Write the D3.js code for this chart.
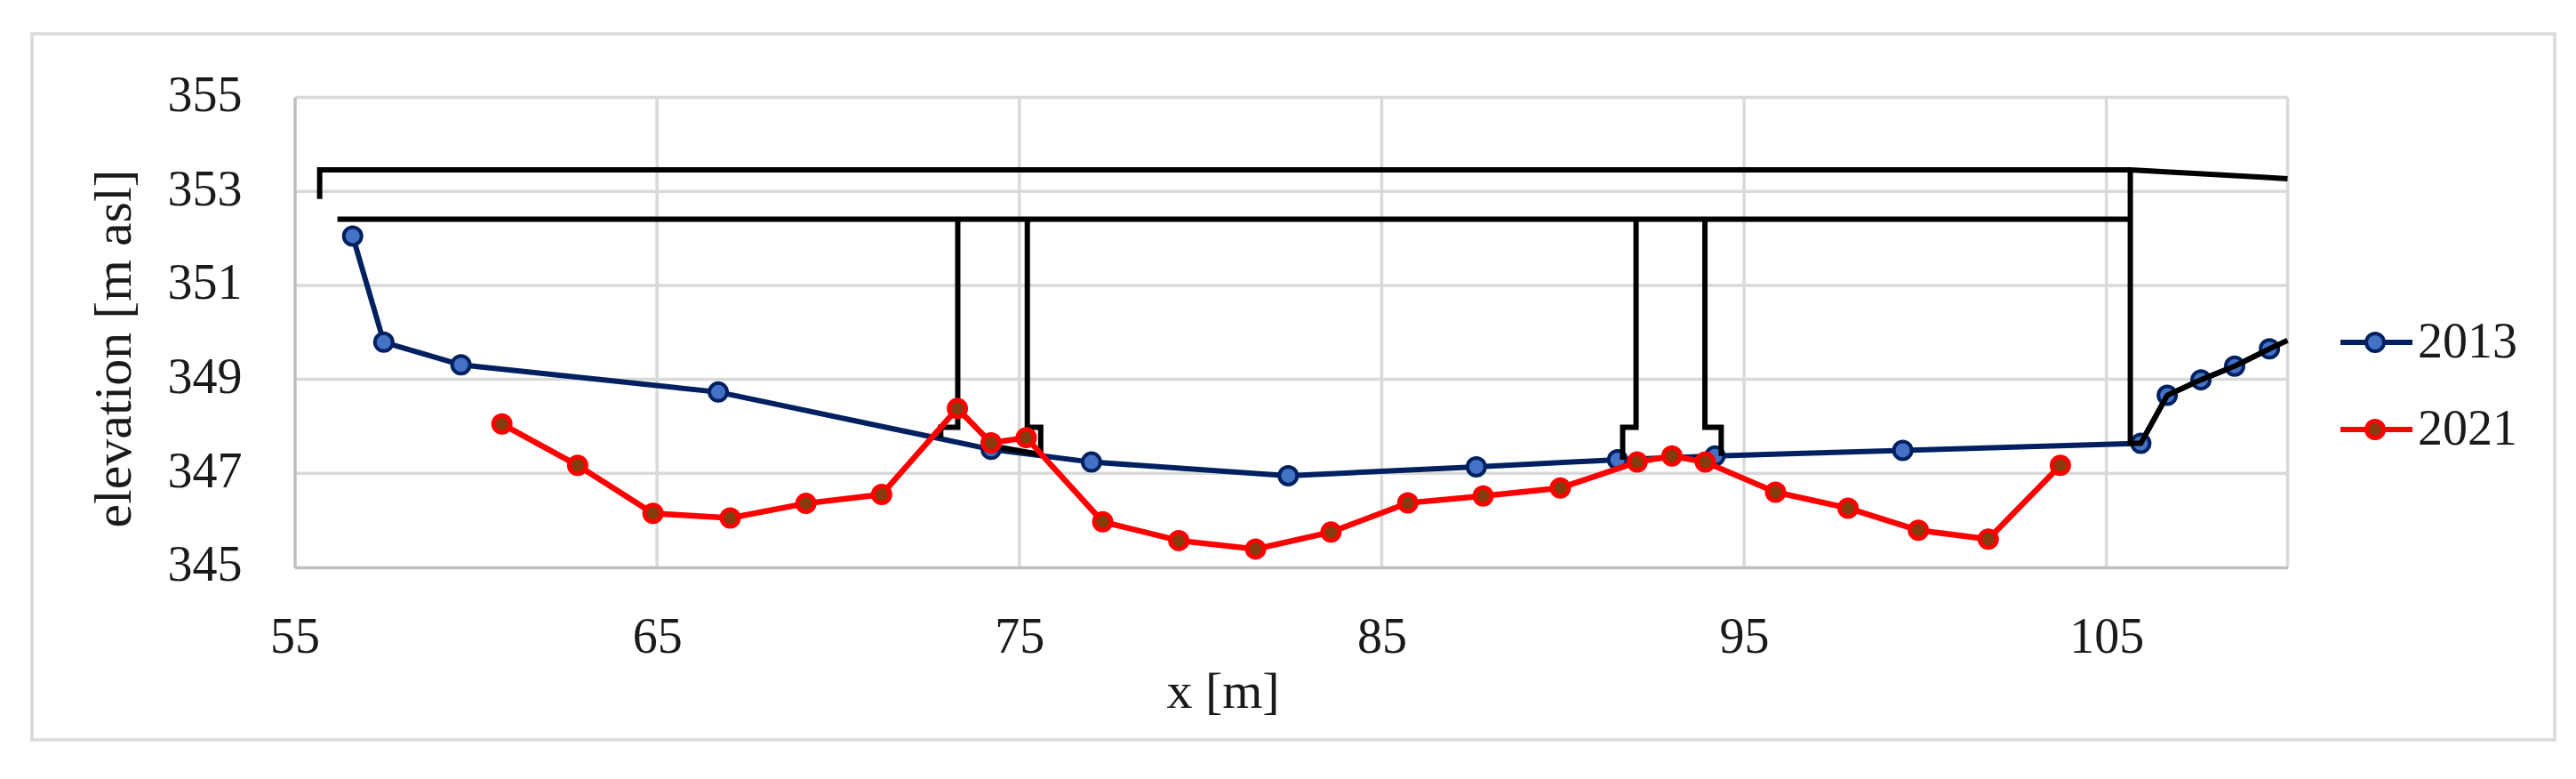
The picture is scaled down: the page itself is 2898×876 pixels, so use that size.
<!DOCTYPE html>
<html><head><meta charset="utf-8">
<script src="https://cdn.jsdelivr.net/npm/d3@7/dist/d3.min.js"></script>
<style>
html,body{margin:0;padding:0;background:#fff}
svg{display:block;filter:blur(0.7px)}
text{font-family:"Liberation Serif",serif;fill:#1a1a1a}
</style></head><body>
<script>
const xTicks=[55,65,75,85,95,105];
const yTicks=[345,347,349,351,353,355];
const seriesNames=["2013","2021"];
const x2013=[56.6,57.46,59.59,66.69,74.22,76.99,82.42,87.61,91.51,94.2,99.38,105.95,106.68,107.61,108.54,109.5];
const y2013=[352.05,349.79,349.31,348.73,347.51,347.24,346.95,347.14,347.29,347.37,347.49,347.64,348.66,348.99,349.28,349.65];
const x2021=[60.72,62.81,64.89,67.02,69.11,71.2,73.29,74.22,75.19,77.3,79.4,81.52,83.6,85.72,87.8,89.93,92.05,93.01,93.93,95.87,97.87,99.81,101.74,103.73];
const y2021=[348.05,347.17,346.15,346.05,346.36,346.55,348.38,347.65,347.76,345.97,345.57,345.39,345.75,346.37,346.52,346.69,347.24,347.37,347.24,346.6,346.26,345.79,345.6,347.17];
// bridge outline and exposed ground, as [x, elevation] polylines
const deck=[[55.69,352.84],[55.69,353.46],[105.66,353.46],[110,353.27]];
const soffit=[[56.18,352.41],[105.66,352.41]];
const pierA=[[72.83,347.76],[72.83,347.98],[73.3,347.98],[73.3,352.41]];
const pierB=[[75.22,352.41],[75.22,347.98],[75.59,347.98],[75.59,347.4],[74.5,347.55]];
const pierC=[[92.02,352.41],[92.02,347.98],[91.65,347.98],[91.65,347.29]];
const pierD=[[93.92,352.41],[93.92,347.98],[94.37,347.98],[94.37,347.37]];
const abutment=[[105.66,353.46],[105.66,347.64],[105.95,347.64],[106.68,348.66],[107.61,348.99],[108.54,349.28],[109.5,349.65],[110,349.83]];
const blackLines=[deck,soffit,pierA,pierB,pierC,pierD,abutment];

const W=2898,H=876;
const x=d3.scaleLinear().domain([55,110]).range([331.5,2573.5]);
const y=d3.scaleLinear().domain([345,355]).range([638,109.5]);
const svg=d3.select("body").append("svg").attr("width",W).attr("height",H);
svg.append("rect").attr("x",36).attr("y",38).attr("width",2838).attr("height",794)
  .attr("fill","#fff").attr("stroke","#d9d9d9").attr("stroke-width",3.5);

const gridG=svg.append("g");
gridG.selectAll(".gx").data(xTicks.slice(1).concat([110])).join("line")
  .attr("x1",d=>x(d)).attr("x2",d=>x(d)).attr("y1",y(355)).attr("y2",y(345))
  .attr("stroke","#d9d9d9").attr("stroke-width",3.5);
gridG.selectAll(".gy").data(yTicks.slice(1)).join("line")
  .attr("x1",x(55)).attr("x2",x(110)).attr("y1",d=>y(d)).attr("y2",d=>y(d))
  .attr("stroke","#d9d9d9").attr("stroke-width",3.5);

const ax=svg.append("g").attr("transform",`translate(0,${y(345)})`)
  .call(d3.axisBottom(x).tickValues(xTicks).tickSize(0).tickPadding(56).tickFormat(d3.format("d")));
const ay=svg.append("g").attr("transform",`translate(${x(55)},-3)`)
  .call(d3.axisLeft(y).tickValues(yTicks).tickSize(0).tickPadding(59).tickFormat(d3.format("d")));
[ax,ay].forEach(g=>{
  g.selectAll("text").attr("font-size",56).attr("font-family",'"Liberation Serif",serif').attr("fill","#1a1a1a");
});
ax.select(".domain").attr("stroke","#bfbfbf").attr("stroke-width",3.5);
ay.select(".domain").attr("transform","translate(0,3)").attr("stroke","#bfbfbf").attr("stroke-width",3.5);

svg.append("text").attr("transform",`translate(147,392) rotate(-90)`).attr("text-anchor","middle")
  .attr("font-size",60).text("elevation [m asl]");
svg.append("text").attr("x",1376).attr("y",796).attr("text-anchor","middle")
  .attr("font-size",58).text("x [m]");

const line=d3.line().x(d=>x(d[0])).y(d=>y(d[1]));
const pts2013=x2013.map((v,i)=>[v,y2013[i]]);
const pts2021=x2021.map((v,i)=>[v,y2021[i]]);
const C={l13:"#002060",f13:"#4472c4",l21:"#ff0000",f21:"#843c0c"};

function marks(g,pts,lc,fc,r,sw){
  g.selectAll("circle.m"+lc.slice(1)).data(pts).join("circle").attr("class","m"+lc.slice(1))
   .attr("cx",d=>x(d[0])).attr("cy",d=>y(d[1])).attr("r",r)
   .attr("fill",fc).attr("stroke",lc).attr("stroke-width",sw);
}
svg.append("path").attr("d",line(pts2013)).attr("fill","none").attr("stroke",C.l13).attr("stroke-width",6);
marks(svg,pts2013,C.l13,C.f13,10,4);

svg.append("g").selectAll("path").data(blackLines).join("path").attr("d",line)
  .attr("fill","none").attr("stroke","#000").attr("stroke-width",6).attr("stroke-linejoin","miter");

svg.append("path").attr("d",line(pts2021)).attr("fill","none").attr("stroke",C.l21).attr("stroke-width",6.5);
marks(svg,pts2021,C.l21,C.f21,9.5,5);

const legendY=[385,483];
seriesNames.forEach((n,i)=>{
  const lc=i?C.l21:C.l13, fc=i?C.f21:C.f13;
  svg.append("line").attr("x1",2633).attr("x2",2714).attr("y1",legendY[i]).attr("y2",legendY[i])
    .attr("stroke",lc).attr("stroke-width",6);
  svg.append("circle").attr("cx",2672).attr("cy",legendY[i]).attr("r",i?9.5:10)
    .attr("fill",fc).attr("stroke",lc).attr("stroke-width",i?5:4);
  svg.append("text").attr("x",2720).attr("y",legendY[i]+17).attr("font-size",56).text(n);
});
</script></body></html>
